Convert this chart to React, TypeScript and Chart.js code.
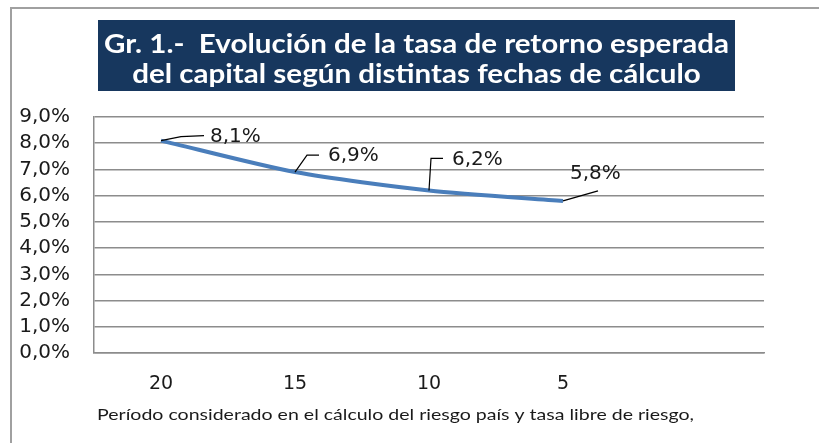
import React, { useEffect, useRef } from "react";
import { Chart, registerables } from "chart.js";

Chart.register(...registerables);

// ---- data ----
const categories: string[] = ["20", "15", "10", "5", ""];
const rates: (number | null)[] = [8.1, 6.9, 6.2, 5.8, null];
const valueLabels: string[] = ["8,1%", "6,9%", "6,2%", "5,8%"];
const titleLines: string[] = [
  "Gr. 1.-  Evolución de la tasa de retorno esperada",
  "del capital según distintas fechas de cálculo",
];
const xAxisTitle = "Período considerado en el cálculo del riesgo país y tasa libre de riesgo,";

const FONT = "'DejaVu Sans', sans-serif";
const TITLE_FONT = "Lato, 'Open Sans', sans-serif";

// leader line geometry relative to each point: path points then text anchor (left x, middle y)
const leaderShapes: { path: [number, number][]; text: [number, number] }[] = [
  { path: [[0, 0], [20, -4], [43, -5]], text: [49, -4] },
  { path: [[0, 0], [12, -17], [24, -17]], text: [33, -16] },
  { path: [[0, 0], [2, -32], [14, -32]], text: [23, -31] },
  { path: [[0, 0], [35, -10]], text: [7, -27] },
];

function drawScaledText(
  ctx: CanvasRenderingContext2D,
  text: string,
  x: number,
  y: number,
  sx: number
) {
  ctx.save();
  ctx.translate(x, y);
  ctx.scale(sx, 1);
  ctx.fillText(text, 0, 0);
  ctx.restore();
}

const decorPlugin = {
  id: "decor",
  beforeDraw(chart: any) {
    const ctx: CanvasRenderingContext2D = chart.ctx;
    ctx.save();
    ctx.fillStyle = "#ffffff";
    ctx.fillRect(0, 0, chart.width, chart.height);
    // outer frame (top + left)
    ctx.strokeStyle = "#a0a0a0";
    ctx.lineWidth = 2;
    ctx.beginPath();
    ctx.moveTo(11, chart.height);
    ctx.lineTo(11, 8);
    ctx.lineTo(chart.width, 8);
    ctx.stroke();

    // title box
    const bx = 98, by = 20, bw = 637, bh = 71;
    ctx.fillStyle = "#17375E";
    ctx.fillRect(bx, by, bw, bh);
    ctx.fillStyle = "#ffffff";
    ctx.font = `bold 26px ${TITLE_FONT}`;
    ctx.textBaseline = "middle";
    ctx.textAlign = "left";
    const w1 = ctx.measureText(titleLines[0]).width;
    const sx = 625 / w1;
    const cx = bx + bw / 2;
    drawScaledText(ctx, titleLines[0], cx - (w1 * sx) / 2, 45, sx);
    const w2 = ctx.measureText(titleLines[1]).width;
    drawScaledText(ctx, titleLines[1], cx - (w2 * sx) / 2, 75, sx);

    // x axis title
    ctx.fillStyle = "#1a1a1a";
    ctx.font = `15px ${TITLE_FONT}`;
    const w3 = ctx.measureText(xAxisTitle).width;
    drawScaledText(ctx, xAxisTitle, 97, 415, 597 / w3);
    ctx.restore();
  },
  afterDatasetsDraw(chart: any) {
    const ctx: CanvasRenderingContext2D = chart.ctx;
    const meta = chart.getDatasetMeta(0);
    ctx.save();
    ctx.strokeStyle = "#000000";
    ctx.lineWidth = 1.2;
    ctx.fillStyle = "#1a1a1a";
    ctx.font = `20px ${FONT}`;
    ctx.textBaseline = "middle";
    ctx.textAlign = "left";
    meta.data.forEach((pt: any, i: number) => {
      if (rates[i] == null || !leaderShapes[i]) return;
      const shape = leaderShapes[i];
      ctx.beginPath();
      shape.path.forEach(([dx, dy], k) => {
        if (k === 0) ctx.moveTo(pt.x + dx, pt.y + dy);
        else ctx.lineTo(pt.x + dx, pt.y + dy);
      });
      ctx.stroke();
      ctx.fillText(valueLabels[i], pt.x + shape.text[0], pt.y + shape.text[1]);
    });
    ctx.restore();
  },
};

export default function App() {
  const ref = useRef<HTMLCanvasElement | null>(null);
  useEffect(() => {
    document.body.style.margin = "0";
    const canvas = ref.current!;
    const chart = new Chart(canvas, {
      type: "line",
      data: {
        labels: categories,
        datasets: [
          {
            data: rates,
            borderColor: "#4A7EBB",
            borderWidth: 4,
            pointRadius: 0,
            tension: 0.25,
            fill: false,
          },
        ],
      },
      options: {
        animation: false,
        responsive: false,
        devicePixelRatio: 1,
        layout: { padding: { left: 12, right: 55, top: 117, bottom: 0 } },
        plugins: { legend: { display: false }, tooltip: { enabled: false }, title: { display: false } },
        scales: {
          x: {
            offset: true,
            grid: { display: false, drawTicks: false },
            border: { display: true, color: "#8c8c8c", width: 1.5 },
            ticks: { color: "#1a1a1a", font: { family: FONT, size: 19 }, padding: 20, maxRotation: 0, autoSkip: false },
            afterFit: (s: any) => {
              s.height = 90;
            },
          },
          y: {
            min: 0,
            max: 9,
            grid: { color: "#8c8c8c", lineWidth: 1.5, drawTicks: false },
            border: { display: true, color: "#8c8c8c", width: 1.5 },
            ticks: {
              stepSize: 1,
              autoSkip: false,
              color: "#1a1a1a",
              font: { family: FONT, size: 20 },
              padding: 24,
              callback: (v: any) => Number(v).toFixed(1).replace(".", ",") + "%",
            },
            afterFit: (s: any) => {
              s.width = 82;
            },
          },
        },
      },
      plugins: [decorPlugin],
    });
    return () => chart.destroy();
  }, []);
  return (
    <div style={{ position: "absolute", left: 0, top: 0, width: 819, height: 443 }}>
      <canvas ref={ref} width={819} height={443} style={{ width: 819, height: 443 }} />
    </div>
  );
}
